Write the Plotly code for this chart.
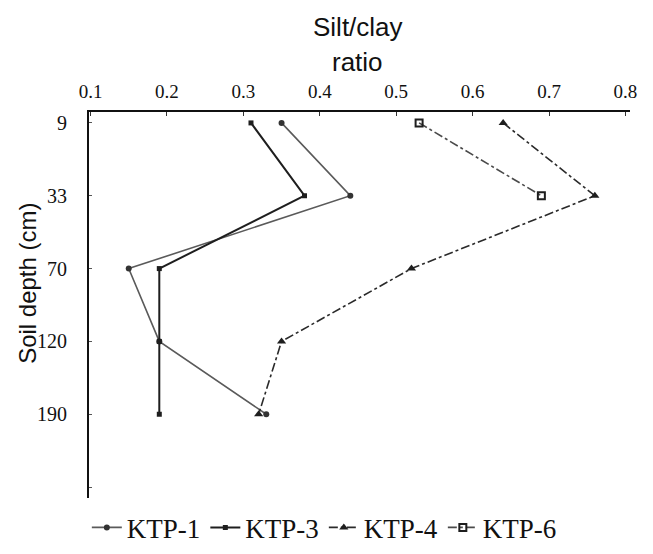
import plotly.graph_objects as go

# Sampling depths (cm), plotted top to bottom at evenly spaced positions
depths = ["9", "33", "70", "120", "190"]
depth_pos = list(range(len(depths)))

# Silt/clay ratio per profile
ktp1 = [0.35, 0.44, 0.15, 0.19, 0.33]
ktp3 = [0.31, 0.38, 0.19, 0.19, 0.19]
ktp4 = [0.64, 0.76, 0.52, 0.35, 0.32]
ktp6 = [0.53, 0.69, None, None, None]

x_ticks = [0.1, 0.2, 0.3, 0.4, 0.5, 0.6, 0.7, 0.8]

serif = "Liberation Serif"
sans = "Liberation Sans"

fig = go.Figure()
fig.add_trace(go.Scatter(
    x=ktp1, y=depth_pos, name="KTP-1", mode="lines+markers",
    line=dict(color="#5a5a5a", width=1.6),
    marker=dict(symbol="circle", size=6, color="#333333"),
))
fig.add_trace(go.Scatter(
    x=ktp3, y=depth_pos, name="KTP-3", mode="lines+markers",
    line=dict(color="#1e1e1e", width=2),
    marker=dict(symbol="square", size=5, color="#1e1e1e"),
))
fig.add_trace(go.Scatter(
    x=ktp4, y=depth_pos, name="KTP-4", mode="lines+markers",
    line=dict(color="#2a2a2a", width=1.6, dash="dashdot"),
    marker=dict(symbol="triangle-up", size=8, color="#1e1e1e"),
))
fig.add_trace(go.Scatter(
    x=ktp6, y=depth_pos, name="KTP-6", mode="lines+markers",
    line=dict(color="#4a4a4a", width=1.6, dash="dashdot"),
    marker=dict(symbol="square-open", size=7, color="#1e1e1e",
                line=dict(width=2)),
))

fig.update_layout(
    width=653, height=554,
    margin=dict(l=89, r=23, t=112, b=56, autoexpand=False),
    paper_bgcolor="white", plot_bgcolor="white",
    showlegend=True,
    legend=dict(
        orientation="h", x=0.435, xanchor="center",
        yref="container", y=0.003, yanchor="bottom",
        font=dict(family=serif, size=27, color="#111111"),
        itemwidth=30, tracegroupgap=0,
    ),
    xaxis=dict(
        side="top", range=[0.098, 0.806],
        tickvals=x_ticks, ticktext=[f"{v:.1f}" for v in x_ticks],
        ticks="inside", ticklen=4, tickcolor="#333333",
        showline=True, linecolor="#111111", linewidth=2,
        showgrid=False, zeroline=False,
        tickfont=dict(family=serif, size=19, color="#111111"),
        ticklabelstandoff=4,
    ),
    yaxis=dict(
        range=[5.15, -0.15],
        tickvals=depth_pos + [len(depths)], ticktext=depths + [""],
        ticks="inside", ticklen=3, tickcolor="#555555",
        showline=True, linecolor="#111111", linewidth=2,
        showgrid=False, zeroline=False,
        tickfont=dict(family=serif, size=20, color="#111111"),
        ticklabelstandoff=16,
    ),
    annotations=[
        dict(text="Silt/clay", x=0.497, y=1.22, xref="paper", yref="paper",
             xanchor="center", yanchor="middle", showarrow=False,
             font=dict(family=sans, size=26, color="#111111")),
        dict(text="ratio", x=0.497, y=1.1295, xref="paper", yref="paper",
             xanchor="center", yanchor="middle", showarrow=False,
             font=dict(family=sans, size=26, color="#111111")),
        dict(text="Soil depth (cm)", x=-0.113, y=0.557, xref="paper",
             yref="paper", xanchor="center", yanchor="middle",
             showarrow=False, textangle=-90,
             font=dict(family=sans, size=24, color="#111111")),
    ],
)

fig.write_html("out.html")
